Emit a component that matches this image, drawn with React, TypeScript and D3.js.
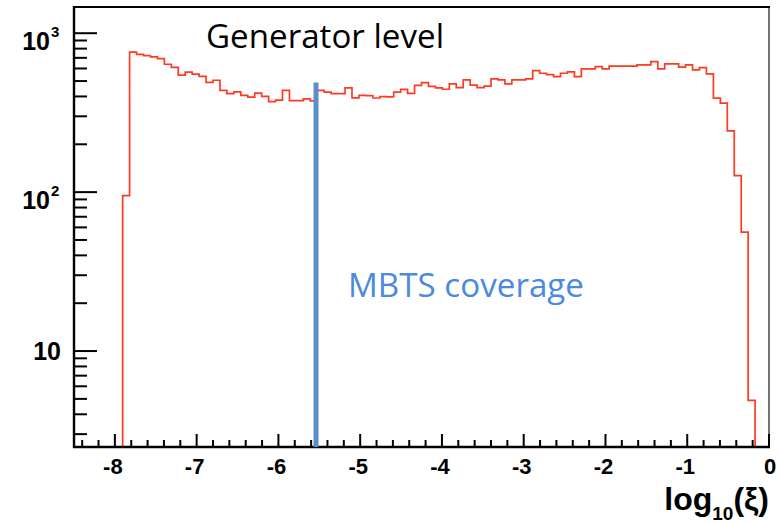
import React from "react";
import * as d3 from "d3";

// histogram binning (100 bins over log10(xi))
const binLow = -8.5;
const binHigh = 0;
const counts = [
  0, 0, 0, 0, 0, 0, 0, 95, 760, 736,
  722, 710, 691, 638, 609, 545, 569, 553, 535, 490,
  506, 437, 417, 427, 406, 396, 420, 400, 371, 379,
  437, 377, 377, 386, 375, 437, 426, 417, 417, 453,
  392, 406, 405, 391, 399, 397, 426, 443, 418, 470,
  489, 463, 453, 444, 480, 455, 509, 471, 455, 464,
  516, 509, 480, 509, 509, 516, 581, 560, 549, 533,
  560, 571, 533, 596, 596, 617, 596, 620, 620, 620,
  620, 632, 632, 663, 596, 641, 641, 611, 632, 588,
  608, 555, 390, 363, 243, 127, 56, 4.9, 0, 0,
];
const yMin = 2.49;
const yMax = 1462;
const xMajorTicks = [-8, -7, -6, -5, -4, -3, -2, -1, 0];
const yLabelTicks = [10, 100, 1000];
const mbtsX = -5.54;
const mbtsTop = 490;

const W = 780, H = 524;
const L = 74, R = 769, T = 7, B = 447;

export default function App() {
  const x = d3.scaleLinear().domain([binLow, binHigh]).range([L, R]);
  const y = d3.scaleLog().domain([yMin, yMax]).range([B, T]);
  const bw = (binHigh - binLow) / counts.length;
  const yy = (v: number) => (v <= yMin ? B : Math.min(B, y(v)));

  const pts: [number, number][] = [[x(binLow), B]];
  counts.forEach((c, i) => {
    const x0 = binLow + i * bw;
    pts.push([x(x0), yy(c)]);
    pts.push([x(x0 + bw), yy(c)]);
  });
  pts.push([x(binHigh), B]);
  const path = d3.line()(pts) || "";

  const xMinor = x.ticks(40).filter((t) => !xMajorTicks.some((m) => Math.abs(m - t) < 1e-6));
  const yMinor = y.ticks().filter((t) => !yLabelTicks.includes(t));

  const bold = "'Liberation Sans', Arial, sans-serif";
  const calibri = "'Open Sans', 'Noto Sans', sans-serif";

  return (
    <svg width={W} height={H} style={{ position: "absolute", left: 0, top: 0, background: "#fff" }}>
      <path d={path} fill="none" stroke="#ff3a22" strokeWidth={1.7} />

      {/* frame */}
      <line x1={R} x2={R} y1={T} y2={B} stroke="#444" strokeWidth={1.5} />
      <line x1={L - 1} x2={R + 1} y1={T} y2={T} stroke="#000" strokeWidth={2.2} />
      <line x1={L} x2={L} y1={T - 1} y2={B + 1} stroke="#000" strokeWidth={2.4} />
      <line x1={L - 1} x2={R + 1} y1={B} y2={B} stroke="#000" strokeWidth={2.4} />

      {/* x ticks */}
      {xMajorTicks.map((t) => (
        <g key={"xm" + t}>
          <line x1={x(t)} x2={x(t)} y1={B} y2={B - 13} stroke="#000" strokeWidth={2} />
          <text x={x(t) + (t === 0 ? 1 : -2)} y={474} textAnchor="middle" fontFamily={bold}
            fontWeight="bold" fontSize={22}>{t === 0 ? "0" : "-" + Math.abs(t)}</text>
        </g>
      ))}
      {xMinor.map((t) => (
        <line key={"xn" + t} x1={x(t)} x2={x(t)} y1={B} y2={B - 7} stroke="#000" strokeWidth={2} />
      ))}

      {/* y ticks */}
      {yLabelTicks.map((t) => (
        <line key={"ym" + t} x1={L} x2={L + 23} y1={y(t)} y2={y(t)} stroke="#000" strokeWidth={2} />
      ))}
      {yMinor.map((t) => (
        <line key={"yn" + t} x1={L} x2={L + 13} y1={y(t)} y2={y(t)} stroke="#000" strokeWidth={2} />
      ))}
      <text x={61} y={y(10) + 9} textAnchor="end" fontFamily={bold} fontWeight="bold" fontSize={25}>10</text>
      {[100, 1000].map((t) => (
        <g key={"yl" + t}>
          <text x={50} y={y(t) + 17} textAnchor="end" fontFamily={bold} fontWeight="bold" fontSize={25}>10</text>
          <text x={51} y={y(t) + 4} fontFamily={bold} fontWeight="bold" fontSize={15}>{Math.log10(t)}</text>
        </g>
      ))}

      {/* axis title */}
      <text x={R} y={510} textAnchor="end" fontFamily={bold} fontWeight="bold" fontSize={32}>
        log<tspan fontSize={19} dy={10}>10</tspan><tspan dy={-10}>(ξ)</tspan>
      </text>

      {/* annotations */}
      <line x1={x(mbtsX)} x2={x(mbtsX)} y1={y(mbtsTop)} y2={B} stroke="#5b8fc9" strokeWidth={5} />
      <text x={206} y={48} fontFamily={calibri} fontSize={32} fill="#000"
        textLength={238} lengthAdjust="spacingAndGlyphs">Generator level</text>
      <text x={348} y={297} fontFamily={calibri} fontSize={32} fill="#4a8ae0"
        textLength={236} lengthAdjust="spacingAndGlyphs">MBTS coverage</text>
    </svg>
  );
}
